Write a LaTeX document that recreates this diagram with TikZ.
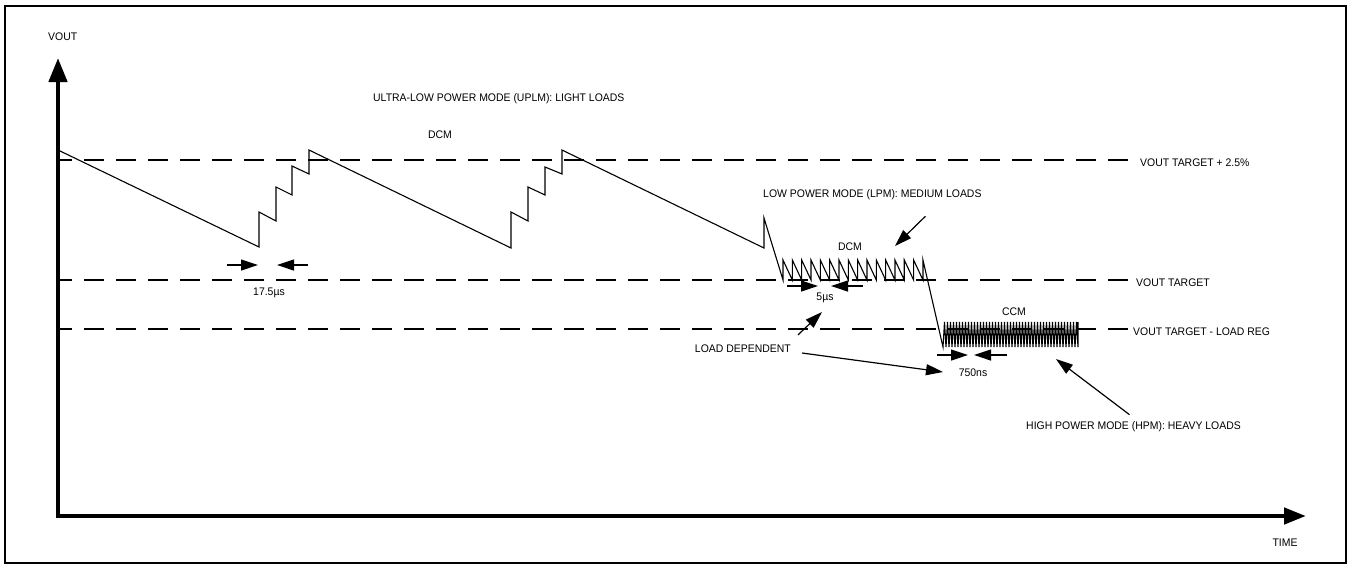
\documentclass[tikz,border=0pt]{standalone}
\usepackage{fontspec}
\setmainfont{Liberation Sans}[FakeStretch=0.95]
\usetikzlibrary{arrows.meta}
\tikzstyle{txt}=[inner sep=1pt, font=\fontsize{11}{13}\selectfont]
\tikzstyle{level}=[draw, line width=1.3pt, dash pattern=on 20pt off 12pt]
\tikzstyle{wave}=[draw, line width=1.1pt, line join=miter]
\tikzstyle{pointer}=[draw, line width=1.2pt, -{Triangle[length=17pt,width=11pt]}]
\tikzstyle{axis}=[draw, line width=4.5pt, {Triangle[length=24pt,width=18pt]}-{Triangle[length=22pt,width=16pt]}]

\begin{document}
\begin{tikzpicture}[x=1pt,y=-1pt]
  \useasboundingbox (0,0) rectangle (1350,566);
  \draw[line width=1.5pt] (5,6) rectangle (1346,563);

  % axes
  \coordinate (origin) at (58,516);
  \draw[axis] (58,58) -- (origin) -- (1306,516);
  \node[txt, anchor=west] (vout) at (47,37) {VOUT};
  \node[txt] (time) at (1285,543) {TIME};

  % threshold levels
  \node[txt, anchor=west] (high) at (1139,163) {VOUT TARGET + 2.5\%};
  \node[txt, anchor=west] (target) at (1135,283) {VOUT TARGET};
  \node[txt, anchor=west] (loadreg) at (1132,332) {VOUT TARGET - LOAD REG};
  \path[level] (1128,160) -- (58,160);
  \path[level] (1128,280) -- (58,280);
  \path[level] (1128,329) -- (58,329);

  % output voltage
  \path[wave] (58,150) -- (259,247)
      -- ++(0,-35) -- ++(17,9) -- ++(0,-34) -- ++(16,8) -- ++(0,-29) -- ++(17,8) -- ++(0,-24)
      -- (511,248)
      -- ++(0,-36) -- ++(17,9) -- ++(0,-34) -- ++(17,8) -- ++(0,-28) -- ++(17,7) -- ++(0,-24)
      -- (764,248) -- (764,218) -- (783,280)
      \foreach \i in {1,...,15} { -- ++(0,-20) -- ++(9.33,20) }
      -- ++(0,-20) -- (943,347)
      \foreach \i in {1,...,45} { -- ++(1.5,-25) -- ++(1.5,25) }
      -- ++(0,-25);

  % ultra-low power mode
  \node[txt, anchor=west] (ulpm) at (372,99) {ULTRA-LOW POWER MODE (UPLM): LIGHT LOADS};
  \node[txt] (dcma) at (440,135) {DCM};
  \node[txt] (t175) at (269,293) {17.5µs};
  \coordinate (t175l) at (258,265);
  \coordinate (t175r) at (277,265);
  \draw[pointer] ([xshift=-31pt]t175l) -- (t175l);
  \draw[pointer] ([xshift=31pt]t175r) -- (t175r);

  % low power mode
  \node[txt, anchor=west] (lpm) at (762,195) {LOW POWER MODE (LPM): MEDIUM LOADS};
  \node[txt] (dcmb) at (850,247) {DCM};
  \coordinate (lpmtip) at (895,246);
  \draw[pointer] ([shift={(53,15)}]lpm.south) -- (lpmtip);
  \node[txt] (t5) at (825,298) {5µs};
  \coordinate (t5l) at (818,286);
  \coordinate (t5r) at (831,286);
  \draw[pointer] ([xshift=-31pt]t5l) -- (t5l);
  \draw[pointer] ([xshift=32pt]t5r) -- (t5r);

  % high power mode
  \node[txt] (ccm) at (1014,312) {CCM};
  \node[txt] (t750) at (973,373) {750ns};
  \coordinate (t750l) at (968,355);
  \coordinate (t750r) at (974,355);
  \draw[pointer] ([xshift=-31pt]t750l) -- (t750l);
  \draw[pointer] ([xshift=33pt]t750r) -- (t750r);
  \node[txt, anchor=west] (hpm) at (1025,427) {HIGH POWER MODE (HPM): HEAVY LOADS};
  \coordinate (hpmtip) at (1056,359);
  \draw[pointer] ([shift={(-4,-6)}]hpm.north) -- (hpmtip);

  % load dependent
  \node[txt, anchor=east] (loaddep) at (792,349) {LOAD DEPENDENT};
  \coordinate (deptipa) at (822,312);
  \coordinate (deptipb) at (943,372);
  \draw[pointer] ([shift={(6,-9)}]loaddep.north east) -- (deptipa);
  \draw[pointer] ([shift={(10,4)}]loaddep.east) -- (deptipb);
\end{tikzpicture}
\end{document}
